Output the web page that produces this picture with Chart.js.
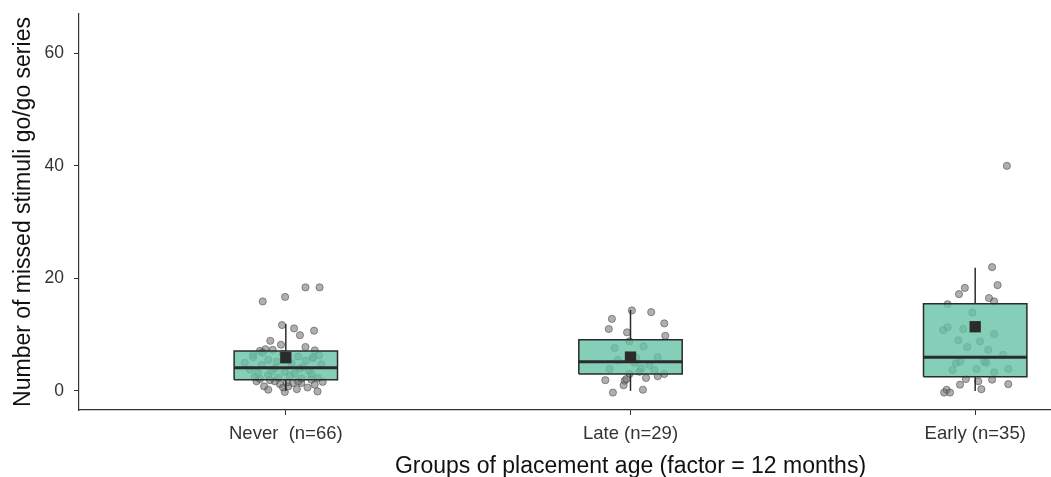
<!DOCTYPE html>
<html>
<head>
  <title>Missed stimuli by placement age</title>
  <script src="https://cdn.jsdelivr.net/npm/chart.js"></script>
  <style>
    html, body { margin: 0; padding: 0; background: #fff; overflow: hidden; }
    #wrap { width: 1190px; height: 477px; }
  </style>
</head>
<body>
  <div id="wrap"><canvas id="boxChart"></canvas></div>

  <script>
    // groups and summary stats
    const groups = ["Never  (n=66)", "Late (n=29)", "Early (n=35)"];
    const whiskerLow = [0, 0, 0];
    const q1 = [2.0, 3.0, 2.5];
    const median = [4.1, 5.2, 6.0];
    const q3 = [7.1, 9.1, 15.5];
    const whiskerHigh = [11.9, 14.4, 21.9];
    const means = [5.9, 6.0, 11.4];
    const yTicks = [0, 20, 40, 60];

    // jittered raw observations: horizontal jitter (in group units) and value
    const neverJitter = [0.057, 0.098, -0.067, -0.002, -0.011, 0.024, 0.041, 0.082, -0.045, -0.014, 0.057, -0.075, -0.059, -0.038, 0.084, -0.095, 0.079,
      -0.095, -0.051, 0.079, 0.036, -0.070, -0.032, 0.050, 0.103, -0.003, 0.026, -0.051, 0.074, -0.090, -0.022, 0.093,
      -0.085, -0.063, -0.051, -0.017, -0.008, -0.003, 0.007, 0.021, 0.045, 0.063, 0.084, 0.092, 0.036, -0.032, 0.074,
      -0.119, -0.104, -0.081, -0.067, -0.046, -0.026, -0.009, 0.012, 0.017, 0.032, 0.046, 0.058, 0.067, 0.096, 0.107, -0.041, 0.003, -0.075, 0.041];
    const neverValues = [18.4, 18.4, 15.9, 16.7, 11.7, 11.1, 9.9, 10.7, 8.9, 8.2, 7.8, 7.1, 7.4, 7.3, 7.2, 6.0, 6.0,
      6.4, 5.5, 5.8, 6.1, 4.6, 4.0, 4.3, 4.7, 3.4, 3.1, 2.8, 3.0, 2.5, 2.3, 2.3,
      1.7, 0.8, 0.2, 1.2, 0.6, -0.2, 0.8, 1.4, 1.4, 0.6, 1.1, -0.1, 1.7, 1.7, 2.0,
      5.0, 3.8, 3.2, 6.8, 1.9, 5.2, 6.6, 2.7, 4.9, 0.3, 2.2, 5.4, 3.6, 6.3, 1.6, 3.5, 1.5, 2.1, 4.0];
    const lateJitter = [0.004, 0.060, -0.054, 0.098, -0.063, -0.010, 0.101, -0.003, -0.046, 0.038, 0.079, -0.037, 0.017, 0.055, -0.061,
      -0.003, -0.073, -0.017, -0.012, -0.020, 0.045, 0.079, 0.098, 0.036, -0.051, 0.069, 0.031, 0.012, 0.026];
    const lateValues = [14.3, 14.0, 12.8, 12.0, 11.0, 10.4, 9.8, 8.8, 7.6, 7.9, 6.0, 5.5, 5.9, 4.6, 3.9,
      3.0, 1.9, 1.8, 2.1, 1.0, 2.3, 2.6, 3.0, 0.2, -0.3, 3.7, 4.0, 5.0, 3.4];
    const earlyJitter = [0.049, 0.065, -0.030, -0.047, 0.040, 0.055, -0.080, -0.008, -0.080, -0.035, 0.055, 0.014, -0.023, -0.044, -0.056,
      0.026, -0.066, 0.004, 0.055, 0.096, -0.027, 0.009, 0.049, 0.096, -0.044, 0.018, -0.083, -0.090, -0.073, 0.092,
      -0.049, 0.038, 0.081, -0.093, 0.032];
    const earlyValues = [22.0, 18.8, 18.3, 17.2, 16.5, 15.9, 15.4, 13.9, 11.3, 11.0, 10.1, 8.8, 7.8, 5.2, 4.9,
      5.2, 3.7, 3.9, 3.3, 3.9, 2.1, 1.7, 2.0, 1.2, 1.1, 0.3, 0.2, -0.3, -0.3, 40.0,
      9.0, 7.3, 6.4, 10.8, 5.0];

    const jitters = [neverJitter, lateJitter, earlyJitter];
    const values = [neverValues, lateValues, earlyValues];

    const boxHalf = 0.15;
    const ink = '#2b2b2b';

    // index 0 is drawn on top, so build from top layer down
    const meanSets = [{
      data: means.map((m, i) => ({ x: i + 1, y: m })),
      pointStyle: 'rect',
      pointRadius: 8,
      backgroundColor: ink,
      borderColor: ink,
      borderWidth: 0
    }];

    const medianSets = median.map((m, i) => ({
      data: [{ x: i + 1 - boxHalf, y: m }, { x: i + 1 + boxHalf, y: m }],
      showLine: true,
      borderColor: ink,
      borderWidth: 3,
      pointRadius: 0
    }));

    const boxSets = q1.map((lo, i) => {
      const c = i + 1;
      return {
        data: [
          { x: c - boxHalf, y: lo }, { x: c + boxHalf, y: lo },
          { x: c + boxHalf, y: q3[i] }, { x: c - boxHalf, y: q3[i] },
          { x: c - boxHalf, y: lo }
        ],
        showLine: true,
        fill: 'shape',
        backgroundColor: 'rgba(102,194,165,0.8)',
        borderColor: ink,
        borderWidth: 1.5,
        pointRadius: 0
      };
    });

    const whiskerSets = [];
    groups.forEach((g, i) => {
      whiskerSets.push({
        data: [{ x: i + 1, y: q3[i] }, { x: i + 1, y: whiskerHigh[i] }],
        showLine: true, borderColor: ink, borderWidth: 1.5, pointRadius: 0
      });
      whiskerSets.push({
        data: [{ x: i + 1, y: whiskerLow[i] }, { x: i + 1, y: q1[i] }],
        showLine: true, borderColor: ink, borderWidth: 1.5, pointRadius: 0
      });
    });

    const pointSets = values.map((vals, i) => ({
      data: vals.map((v, k) => ({ x: i + 1 + jitters[i][k], y: v })),
      pointRadius: 3.6,
      backgroundColor: 'rgba(110,110,110,0.55)',
      borderColor: 'rgba(70,70,70,0.55)',
      borderWidth: 1
    }));

    const ctx = document.getElementById("boxChart").getContext("2d");
    new Chart(ctx, {
      type: 'scatter',
      data: { datasets: [...meanSets, ...medianSets, ...boxSets, ...whiskerSets, ...pointSets] },
      options: {
        responsive: true,
        maintainAspectRatio: false,
        animation: false,
        events: [],
        layout: { padding: { top: 14, right: 6, left: 0, bottom: 0 } },
        plugins: { legend: { display: false }, tooltip: { enabled: false } },
        scales: {
          x: {
            type: 'linear',
            min: 0.4,
            max: 3.6,
            afterBuildTicks: s => { s.ticks = groups.map((g, i) => ({ value: i + 1 })); },
            afterFit: s => { s.height = 67; },
            grid: { display: true, drawOnChartArea: false, drawTicks: true, tickLength: 5, color: '#333' },
            border: { display: true, color: '#333', width: 1.2 },
            ticks: {
              callback: v => groups[Math.round(v) - 1],
              font: { family: 'Liberation Sans', size: 18.5 },
              color: '#333',
              padding: 8,
              maxRotation: 0
            },
            title: {
              display: true,
              text: 'Groups of placement age (factor = 12 months)',
              font: { family: 'Liberation Sans', size: 23 },
              color: '#111',
              padding: { top: 0, bottom: -3 }
            }
          },
          y: {
            min: -3.4,
            max: 67,
            afterBuildTicks: s => { s.ticks = yTicks.map(v => ({ value: v })); },
            afterFit: s => { s.width = 79; s.paddingTop = 0; s.paddingBottom = 0; },
            grid: { display: true, drawOnChartArea: false, drawTicks: true, tickLength: 5, color: '#333' },
            border: { display: true, color: '#333', width: 1.2 },
            ticks: {
              font: { family: 'Liberation Sans', size: 17.5 },
              color: '#333',
              padding: 10
            },
            title: {
              display: true,
              text: 'Number of missed stimuli go/go series',
              font: { family: 'Liberation Sans', size: 23 },
              color: '#111',
              padding: { top: 10, bottom: 0 }
            }
          }
        }
      }
    });
  </script>
</body>
</html>
